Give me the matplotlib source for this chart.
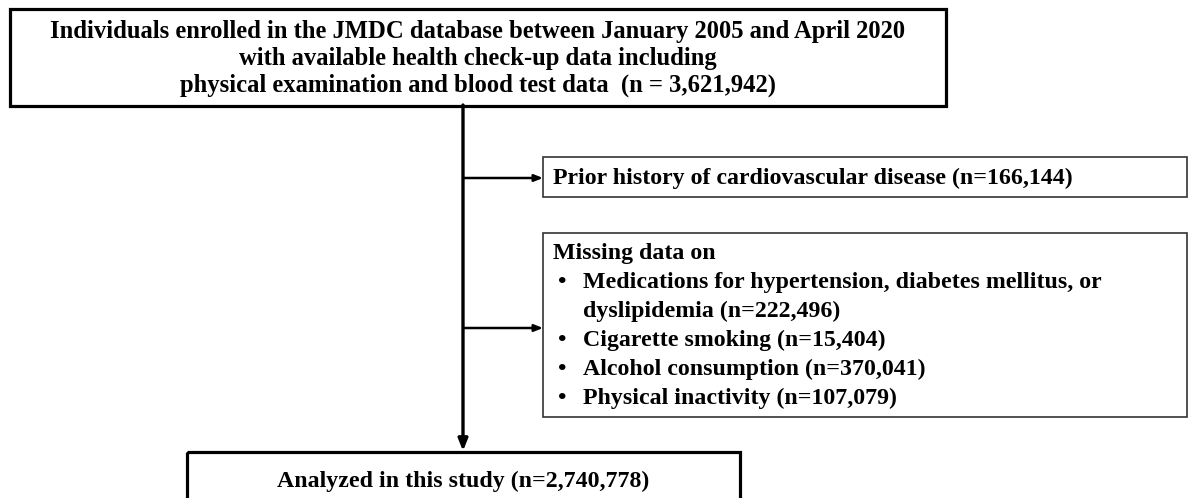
import matplotlib.pyplot as plt
from matplotlib.patches import Rectangle

# --- flowchart content ---
total_n = "3,621,942"
excluded_cvd_n = "166,144"
missing_labels = ["Medications for hypertension, diabetes mellitus, or\ndyslipidemia",
                  "Cigarette smoking", "Alcohol consumption", "Physical inactivity"]
missing_counts = ["222,496", "15,404", "370,041", "107,079"]
analyzed_n = "2,740,778"

top_lines = ["Individuals enrolled in the JMDC database between January 2005 and April 2020",
             "with available health check-up data including",
             f"physical examination and blood test data  (n = {total_n})"]

W, H = 1188, 498
fig = plt.figure(figsize=(W / 100, H / 100), dpi=100)
ax = fig.add_axes([0, 0, 1, 1])
ax.set_xlim(0, W)
ax.set_ylim(H, 0)
ax.axis('off')

font = dict(family='Liberation Serif', weight='bold', fontsize=17.2, color='black')
arrow_side = dict(arrowstyle='-|>,head_length=0.5,head_width=0.2', lw=1.8, color='black',
                  shrinkA=0, shrinkB=0)

# top box
ax.add_patch(Rectangle((10, 9), 936, 97, fill=False, lw=2.3, ec='black', clip_on=False))
for i, line in enumerate(top_lines):
    ax.text(478, 31 + i * 27, line, ha='center', va='center',
            **{**font, 'fontsize': 17.7})

# main vertical arrow
spine_x = 463
ax.annotate('', xy=(spine_x, 451), xytext=(spine_x, 105),
            arrowprops=dict(arrowstyle='-|>,head_length=0.7,head_width=0.28', lw=2.4,
                            color='black', shrinkA=0, shrinkB=0))

# exclusion box 1
ax.add_patch(Rectangle((543, 157), 644, 40, fill=False, lw=1.2, ec='#333333', clip_on=False))
ax.text(553, 178, f"Prior history of cardiovascular disease (n={excluded_cvd_n})",
        ha='left', va='center', **font)
ax.annotate('', xy=(543, 178), xytext=(spine_x, 178), arrowprops=arrow_side)

# exclusion box 2
ax.add_patch(Rectangle((543, 233), 644, 184, fill=False, lw=1.2, ec='#333333', clip_on=False))
ax.text(553, 253, "Missing data on", ha='left', va='center', **font)
y = 253
for lab, n in zip(missing_labels, missing_counts):
    y += 29
    ax.text(558, y, "\u2022", ha='left', va='center', **font)
    parts = f"{lab} (n={n})".split('\n')
    for j, p in enumerate(parts):
        ax.text(583, y + j * 29, p, ha='left', va='center', **font)
    y += (len(parts) - 1) * 29
ax.annotate('', xy=(543, 328), xytext=(spine_x, 328), arrowprops=arrow_side)

# bottom box (runs off the bottom edge)
ax.add_patch(Rectangle((187, 452), 553, 60, fill=False, lw=2.3, ec='black', clip_on=True))
ax.text(463, 481, f"Analyzed in this study (n={analyzed_n})", ha='center', va='center', **font)

fig.savefig('out.png', dpi=100)
